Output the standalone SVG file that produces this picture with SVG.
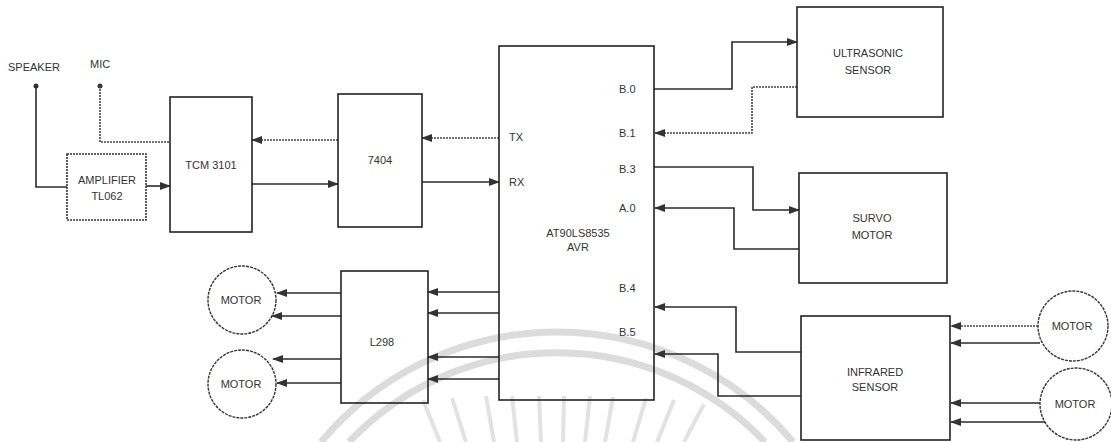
<svg xmlns="http://www.w3.org/2000/svg" width="1111" height="442" viewBox="0 0 1111 442">
<style>
.box{fill:none;stroke:#222;stroke-width:1.6}
.dbox{fill:none;stroke:#333;stroke-width:1.6;stroke-dasharray:2 1}
.circ{fill:none;stroke:#333;stroke-width:1.4;stroke-dasharray:3 1}
.ln{fill:none;stroke:#2a2a2a;stroke-width:1.6}
.dl{fill:none;stroke:#444;stroke-width:1.6;stroke-dasharray:2 1}
.arr{marker-end:url(#ah)}
.t{font-family:"Liberation Sans",Arial,sans-serif;font-size:11px;fill:#333;text-anchor:middle}
.tl{font-family:"Liberation Sans",Arial,sans-serif;font-size:11px;fill:#333}
.wm{fill:none;stroke:#dcdcdc;stroke-width:7}
.ray{stroke:#e2e2e2;stroke-width:4}
</style>
<defs>
<marker id="ah" markerWidth="11" markerHeight="8" refX="10" refY="4" orient="auto" markerUnits="userSpaceOnUse">
<path d="M0,0 L11,4 L0,8 z" fill="#333"/>
</marker>
</defs>
<rect width="1111" height="442" fill="#fff"/>
<g id="watermark">
<path class="wm" d="M321,442 A308,308 0 0 1 793,442"/>
<path class="wm" d="M349,442 A287,287 0 0 1 765,442"/>
<line class="ray" x1="423" y1="400" x2="440" y2="442"/>
<line class="ray" x1="452" y1="398" x2="466" y2="442"/>
<line class="ray" x1="486" y1="396" x2="494" y2="442"/>
<line class="ray" x1="512" y1="396" x2="517" y2="442"/>
<line class="ray" x1="539" y1="396" x2="541" y2="442"/>
<line class="ray" x1="564" y1="396" x2="563" y2="442"/>
<line class="ray" x1="590" y1="396" x2="585" y2="442"/>
<line class="ray" x1="613" y1="397" x2="605" y2="442"/>
<line class="ray" x1="646" y1="398" x2="633" y2="442"/>
<line class="ray" x1="674" y1="400" x2="657" y2="442"/>
<line class="ray" x1="704" y1="404" x2="684" y2="442"/>
</g>
<g id="connectors">
<circle cx="36" cy="86" r="2.5" fill="#333"/>
<circle cx="100" cy="86" r="2.5" fill="#333"/>
<path class="ln" d="M36,86 V187 H67"/>
<path class="dl" d="M100,86 V142 H170"/>
<path class="ln arr" d="M146,186 H170"/>
<path class="dl arr" d="M338,140 H252"/>
<path class="ln arr" d="M252,184 H338"/>
<path class="dl arr" d="M499,138 H422"/>
<path class="ln arr" d="M422,182 H499"/>
<path class="ln arr" d="M654,89 H732 V42 H797"/>
<path class="dl arr" d="M797,87 H752 V133 H655"/>
<path class="ln arr" d="M654,167 H753 V210 H799"/>
<path class="ln arr" d="M799,249 H734 V208 H655"/>
<path class="ln arr" d="M801,352 H736 V307 H655"/>
<path class="ln arr" d="M801,396 H718 V354 H655"/>
<path class="ln arr" d="M499,292 H428"/>
<path class="ln arr" d="M499,313 H428"/>
<path class="ln arr" d="M499,357 H428"/>
<path class="ln arr" d="M499,379 H428"/>
<path class="ln arr" d="M341,293 H277"/>
<path class="ln arr" d="M341,316 H272"/>
<path class="ln arr" d="M341,359 H273"/>
<path class="ln arr" d="M341,383 H277"/>
<path class="dl arr" d="M1038,326 H951"/>
<path class="ln arr" d="M1040,343 H951"/>
<path class="ln arr" d="M1040,403 H951"/>
<path class="ln arr" d="M1045,422 H951"/>
</g>
<g id="speaker"><text class="tl" x="8" y="71" font-size="10">SPEAKER</text></g>
<g id="mic"><text class="tl" x="90" y="68" font-size="10">MIC</text></g>
<g id="amplifier">
<rect class="dbox" x="67" y="154" width="79" height="66"/>
<text class="t" x="107" y="184">AMPLIFIER</text>
<text class="t" x="107" y="200">TL062</text>
</g>
<g id="tcm3101">
<rect class="box" x="170" y="97" width="82" height="135"/>
<text class="t" x="211" y="169">TCM 3101</text>
</g>
<g id="ic7404">
<rect class="box" x="338" y="94" width="84" height="133"/>
<text class="t" x="380" y="164">7404</text>
</g>
<g id="avr">
<rect class="box" x="499" y="46" width="155" height="354"/>
<text class="tl" x="509" y="141">TX</text>
<text class="tl" x="509" y="186">RX</text>
<text class="tl" x="619" y="93">B.0</text>
<text class="tl" x="619" y="137">B.1</text>
<text class="tl" x="619" y="173">B.3</text>
<text class="tl" x="619" y="212">A.0</text>
<text class="tl" x="619" y="292">B.4</text>
<text class="tl" x="619" y="336">B.5</text>
<text class="t" x="578" y="237">AT90LS8535</text>
<text class="t" x="578" y="251">AVR</text>
</g>
<g id="ultrasonic">
<rect class="box" x="797" y="7" width="146" height="110"/>
<text class="t" x="868" y="57">ULTRASONIC</text>
<text class="t" x="868" y="74">SENSOR</text>
</g>
<g id="servo">
<rect class="box" x="799" y="173" width="148" height="110"/>
<text class="t" x="872" y="222">SURVO</text>
<text class="t" x="872" y="239">MOTOR</text>
</g>
<g id="infrared">
<rect class="box" x="801" y="316" width="149" height="124"/>
<text class="t" x="875" y="376">INFRARED</text>
<text class="t" x="875" y="391">SENSOR</text>
</g>
<g id="l298">
<rect class="box" x="341" y="271" width="87" height="132"/>
<text class="t" x="382" y="346">L298</text>
</g>
<g id="motor-l1">
<circle class="circ" cx="242" cy="300" r="34"/>
<text class="t" x="241" y="304">MOTOR</text>
</g>
<g id="motor-l2">
<circle class="circ" cx="242" cy="384" r="34"/>
<text class="t" x="241" y="388">MOTOR</text>
</g>
<g id="motor-r1">
<circle class="circ" cx="1073" cy="326" r="35"/>
<text class="t" x="1072" y="330">MOTOR</text>
</g>
<g id="motor-r2">
<circle class="circ" cx="1076" cy="404" r="36"/>
<text class="t" x="1075" y="408">MOTOR</text>
</g>
</svg>
